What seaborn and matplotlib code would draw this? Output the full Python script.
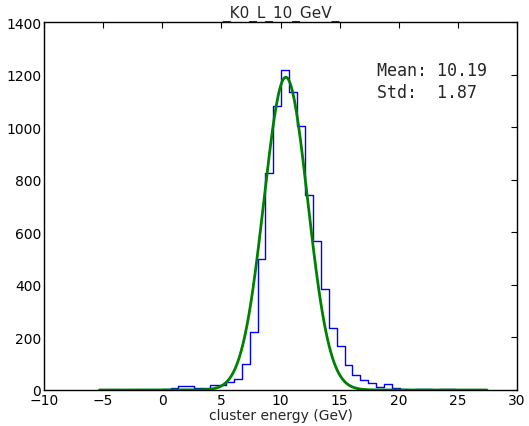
import numpy as np
import pandas as pd
import matplotlib
matplotlib.use("Agg")
import matplotlib.pyplot as plt
import seaborn as sns

# ---- data ----
bin_start = -5.32
bin_width = 0.669
counts = [0, 0, 0, 0, 0, 0, 0, 0,          # -5.32 .. 0.03
          2, 6, 14, 14, 9, 9, 19, 20, 30, 42,  # 0.03 .. 6.72
          99, 222, 498, 824, 1079, 1216, 1132, 1005, 743, 568,
          384, 236, 169, 95, 57, 39, 27, 12, 24, 7,
          3, 1, 4, 3, 1, 2, 3, 1, 0, 0, 0]
fit_amp = 1190.0
fit_mean = 10.45
fit_sigma = 1.85
mean_txt = "10.19"
std_txt = "1.87"
title = "_K0_L_10_GeV_"
xlabel = "cluster energy (GeV)"
xticks = [-10, -5, 0, 5, 10, 15, 20, 25, 30]
yticks = [0, 200, 400, 600, 800, 1000, 1200, 1400]

edges = bin_start + bin_width * np.arange(len(counts) + 1)
centers = (edges[:-1] + edges[1:]) / 2
df = pd.DataFrame({"energy": centers, "count": counts})

xs = np.linspace(edges[0], edges[-1], 400)
fit_df = pd.DataFrame({"x": xs,
                       "y": fit_amp * np.exp(-(xs - fit_mean) ** 2 / (2 * fit_sigma ** 2))})

sns.set_style("white")
plt.rcParams["font.family"] = ["DejaVu Sans"]

fig = plt.figure(figsize=(5.29, 4.27), dpi=100)
ax = fig.add_axes([44 / 529, 36 / 427, 473 / 529, 368 / 427])

sns.histplot(data=df, x="energy", weights="count", bins=list(edges), element="step",
             fill=False, color="blue", linewidth=1.0, ax=ax)
sns.lineplot(data=fit_df, x="x", y="y", color="green", linewidth=2.0, ax=ax)

ax.set_xlim(-10, 30)
ax.set_ylim(0, 1400)
ax.set_xticks(xticks)
ax.set_yticks(yticks)
ax.set_xlabel(xlabel, fontsize=10, labelpad=1)
ax.set_ylabel("")
ax.set_title(title, fontsize=11, pad=4)
ax.tick_params(direction="in", top=True, right=True, length=4, width=0.8,
               labelsize=10, colors="black", pad=2)
for s in ax.spines.values():
    s.set_color("black")
    s.set_linewidth(1.0)

ax.text(0.705, 0.893, f"Mean: {mean_txt}\nStd:  {std_txt}", transform=ax.transAxes,
        family="DejaVu Sans Mono", fontsize=12, va="top", ha="left", linespacing=1.25)

fig.savefig("out.png", dpi=100)
